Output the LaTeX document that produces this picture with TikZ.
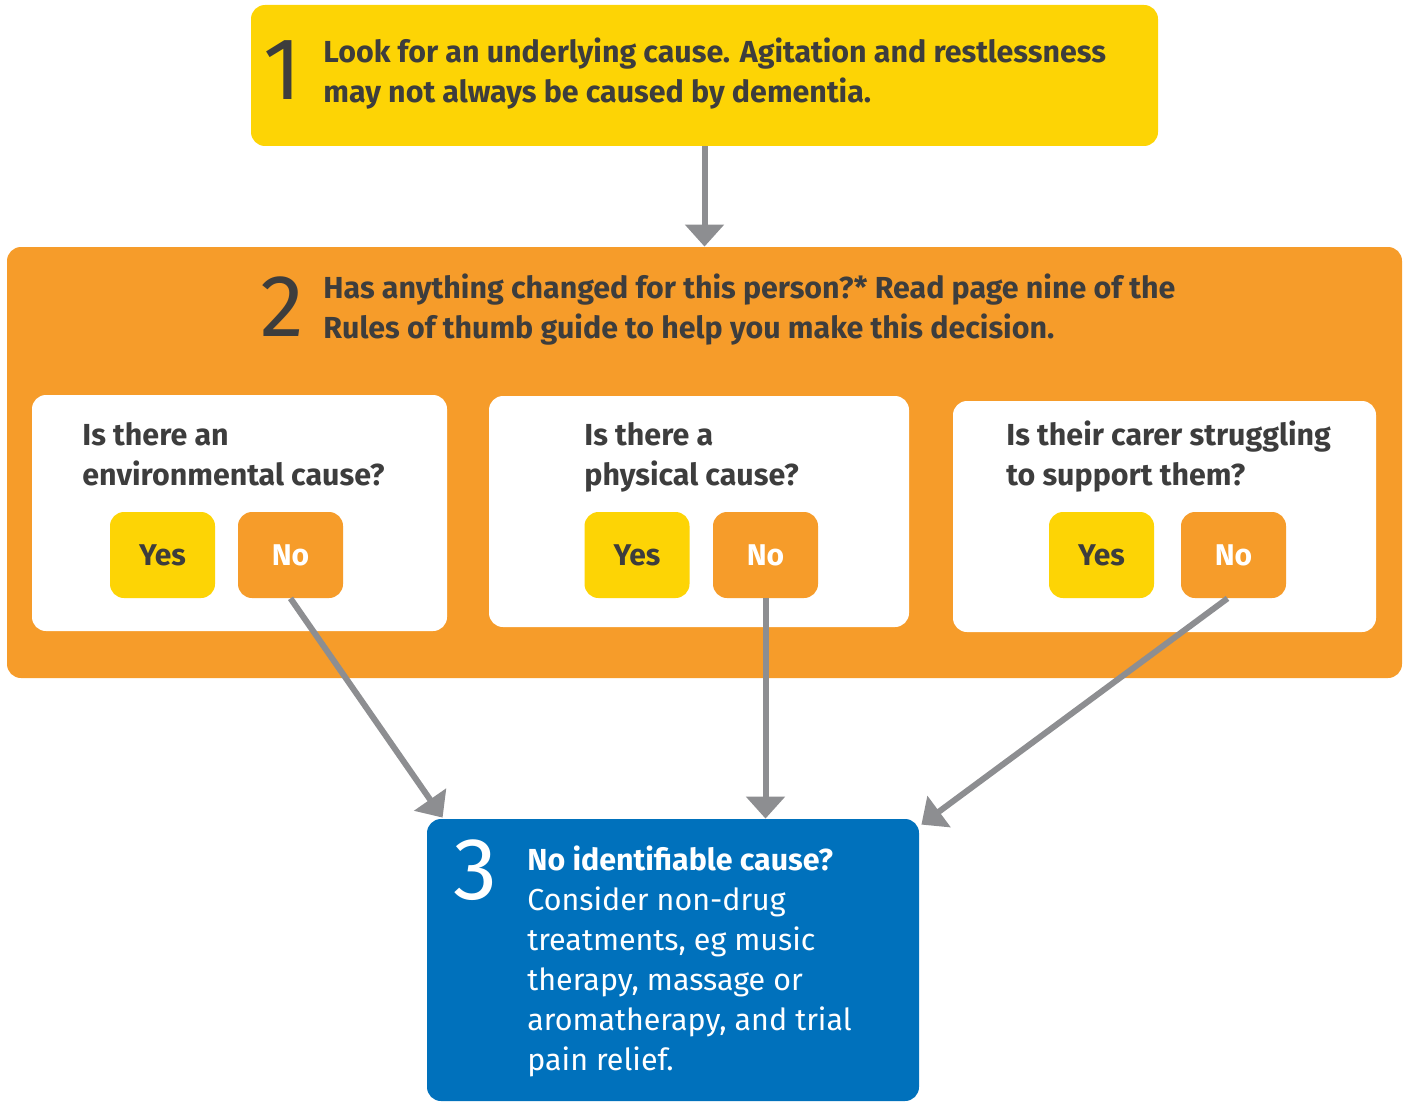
\documentclass[tikz,border=0pt]{standalone}
\usepackage{fontspec}
\setmainfont{Fira Sans}
\usetikzlibrary{arrows.meta,calc,fit}

\definecolor{yellowbox}{HTML}{FDD405}
\definecolor{orangebox}{HTML}{F69C2A}
\definecolor{bluebox}{HTML}{0071BC}
\definecolor{arrowgray}{HTML}{8D8E91}
\definecolor{textgray}{HTML}{3D3D3D}

\begin{document}
\begin{tikzpicture}[x=0.5pt,y=-0.5pt,
    panel/.style ={rounded corners=7pt, inner sep=0pt},
    button/.style ={rounded corners=7pt, minimum width=52.5pt, minimum height=43pt,
                    inner sep=0pt, font=\bfseries\fontsize{15}{18}\selectfont},
    number/.style ={inner sep=0pt, font=\fontsize{44}{44}\selectfont},
    heading/.style ={anchor=north west, align=left, inner sep=0pt, text=textgray,
                    font=\bfseries\fontsize{15.2}{20}\selectfont},
    link/.style ={draw=arrowgray, line width=3pt, -{Triangle[width=19pt,length=11pt]}}]
   \useasboundingbox (0,0) rectangle (1408,1102);

   % boxes
   \node[panel, fill=yellowbox, fit={(251,5) (1158,146)}] (one) {};
   \node[panel, fill=orangebox, fit={(7,247) (1402,678)}] (two) {};
   \node[panel, fill=white, fit={(32,395) (447,631)}] (env) {};
   \node[panel, fill=white, fit={(489,396) (909,627)}] (phys) {};
   \node[panel, fill=white, fit={(953,401) (1376,632)}] (carer) {};
   \node[panel, fill=bluebox, fit={(427,819) (919,1101)}] (three) {};

   % step texts
   \node[number, text=textgray] (n1) at (283,70) {1};
   \node[heading] (t1) at (323,37) {Look for an underlying cause. Agitation and restlessness\\may not always be caused by dementia.};
   \node[number, text=textgray] (n2) at (282,307) {2};
   \node[heading] (t2) at (323,273) {Has anything changed for this person?* Read page nine of the\\Rules of thumb guide to help you make this decision.};

   % questions
   \node[heading] (q1) at (82,422) {Is there an\\environmental cause?};
   \node[heading] (q2) at (584,422) {Is there a\\physical cause?};
   \node[heading] (q3) at (1006,420) {Is their carer struggling\\to support them?};

   \node[button, fill=yellowbox, text=textgray] (envyes) at (162.5,555) {Yes};
   \node[button, fill=orangebox, text=white] (envno) at (290.5,555) {No};
   \node[button, fill=yellowbox, text=textgray] (physyes) at (637,555) {Yes};
   \node[button, fill=orangebox, text=white] (physno) at (765.5,555) {No};
   \node[button, fill=yellowbox, text=textgray] (carleryes) at (1101.5,555) {Yes};
   \node[button, fill=orangebox, text=white] (carerno) at (1233.5,555) {No};

   \node[number, text=white] (n3) at (475,870) {3};
   \node[heading, text=white, font=\fontsize{15.2}{20}\selectfont] (t3) at (527,845)
      {\textbf{No identifiable cause?}\\Consider non-drug\\treatments, eg music\\therapy, massage or\\aromatherapy, and trial\\pain relief.};

   \draw[link] (one) -- (two);
   \draw[link] (envno.south) -- ($(three.north west)+(16,-1)$);
   \draw[link] (physno.south) -- (physno.south |- three.north);
   \draw[link] ($(carerno.south)+(-6,0)$) -- ($(three.north east)+(2,6)$);
 \end{tikzpicture}
\end{document}
